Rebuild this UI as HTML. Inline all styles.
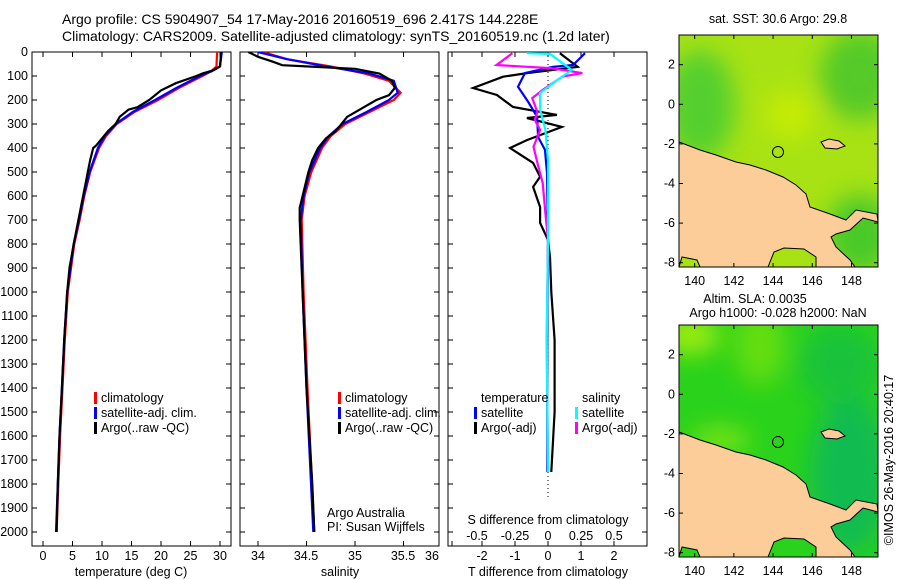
<!DOCTYPE html>
<html><head><meta charset="utf-8">
<style>
body{margin:0;background:#fff;}
svg{display:block;font-family:"Liberation Sans",sans-serif;}
text{font-size:12.5px;fill:#000;}
.ttl{font-size:14px;}
</style></head>
<body>
<svg id="fig" width="900" height="580" viewBox="0 0 900 580">
<defs>
<filter id="blur" x="-50%" y="-50%" width="200%" height="200%"><feGaussianBlur stdDeviation="12"/></filter>
<clipPath id="clipP1"><rect x="32" y="52" width="199" height="494"/></clipPath>
<clipPath id="clipP2"><rect x="240" y="52" width="199" height="494"/></clipPath>
<clipPath id="clipP3"><rect x="448" y="52" width="199" height="494"/></clipPath>
<clipPath id="clipM1"><rect x="679" y="35" width="199" height="232"/></clipPath>
<clipPath id="clipM2"><rect x="679" y="325" width="199" height="232"/></clipPath>
</defs>
<g>
<text class="ttl" x="62" y="24">Argo profile: CS 5904907_54 17-May-2016 20160519_696 2.417S 144.228E</text>
<text class="ttl" x="62" y="41">Climatology: CARS2009. Satellite-adjusted climatology: synTS_20160519.nc (1.2d later)</text>
</g>
<g id="panels"></g>
<g id="maps"></g>
<text transform="translate(893,460) rotate(-90)" text-anchor="middle">©IMOS 26-May-2016 20:40:17</text>
</svg>
<script>
// ---------- data ----------
const tempArgoDepth=[0,60,75,90,100,130,160,200,230,240,270,300,330,360,390,400,450,500,550,600,700,800,900,1000,1200,1400,1600,1800,2000];
const tempArgo=[30.2,30,29,27,26,22.5,20,18,16,14.5,13,12.3,11,10,9,8.5,8,7.6,7.2,6.8,6.0,5.2,4.5,4.1,3.6,3.2,2.8,2.5,2.3];
const tempClimDepth=[0,60,80,100,150,200,250,300,350,400,500,600,700,800,1000,1200,1400,1600,1800,2000];
const tempClim=[29.5,29.4,28.5,27,23,19.5,15.5,12.5,10.7,9.5,8,7,6.2,5.3,4.2,3.7,3.3,2.9,2.6,2.3];
const tempSat=[30.3,30,28.6,26.6,22.6,19,15.2,12.3,10.5,9.3,7.9,6.9,6.1,5.2,4.1,3.6,3.2,2.8,2.5,2.2];
const salArgoDepth=[0,20,40,55,62,70,90,120,150,180,200,240,270,290,330,360,400,450,500,600,650,700,1000,1400,1800,2000];
const salArgo=[33.9,34.0,34.15,34.25,34.6,35.0,35.25,35.38,35.41,35.35,35.22,35.05,34.92,34.88,34.8,34.7,34.62,34.56,34.52,34.46,34.43,34.43,34.46,34.5,34.56,34.58];
const salClimDepth=[0,30,60,90,120,170,200,250,300,350,400,500,600,700,1000,1400,2000];
const salClim=[34.05,34.3,34.75,35.1,35.35,35.47,35.4,35.15,34.9,34.75,34.66,34.55,34.48,34.45,34.47,34.51,34.58];
const salSat=[34.0,34.3,34.7,35.15,35.4,35.44,35.35,35.12,34.87,34.73,34.64,34.53,34.47,34.44,34.46,34.5,34.57];
const tdArgoDepth=[5,62,88,103,150,179,229,262,275,312,367,400,462,520,562,646,712,783,854,1000,1200,1500,1750];
const tdArgo=[0.36,0.9,-0.64,-1.36,-2.27,-1.55,-1.06,0.27,-0.64,0.42,-0.64,-1.15,-0.45,-0.24,-0.45,-0.24,-0.24,0,0.06,0.1,0.2,0.2,0.1];
const tdSatDepth=[5,54,62,88,145,208,270,354,408,504,800,1200,1750];
const tdSat=[1.12,0.76,0.15,-0.7,-0.91,-0.6,-0.33,-0.3,-0.09,-0.03,0,-0.02,-0.02];
const sdArgoDepth=[5,54,67,88,102,158,192,250,283,325,395,462,546,671,783,1200,1750];
const sdArgo=[-0.27,-0.39,0.015,0.26,0.11,-0.04,-0.12,-0.08,-0.1,-0.06,-0.11,-0.08,-0.04,-0.02,0,-0.01,0];
const sdSatDepth=[5,8,75,117,171,242,325,450,800,1200,1750];
const sdSat=[-0.16,0.015,0.18,0.07,-0.06,-0.06,-0.02,0,0,-0.01,0];
const depthTicks=[0,100,200,300,400,500,600,700,800,900,1000,1100,1200,1300,1400,1500,1600,1700,1800,1900,2000];
const tempTicks=[0,5,10,15,20,25,30];
const salTicks=[34,34.5,35,35.5,36];
const tdTicks=[-2,-1,0,1,2];
const sdTicks=[-0.5,-0.25,0,0.25,0.5];
const sdTickLabels=["-0.5","-0.25","0","0.25","0.5"];
const lonTicks=[140,142,144,146,148];
const latTicks=[2,0,-2,-4,-6,-8];
// ---------- scales ----------
const yD=d=>52+d*0.24;
const xT=t=>43+t*5.9;
const xS=s=>258+(s-34)*97;
const xTd=t=>548+t*33;
const xSd=s=>548+s*132;
const lonX=l=>679+(l-139.2)*19.6;
const latY=(la,top)=>top+(3.5-la)*19.8;
const NS="http://www.w3.org/2000/svg";
const panels=document.getElementById('panels');
const maps=document.getElementById('maps');
function mk(tag,attrs,parent){const e=document.createElementNS(NS,tag);for(const k in attrs)e.setAttribute(k,attrs[k]);parent.appendChild(e);return e;}
function txt(x,y,s,anchor,parent){const t=mk('text',{x:x,y:y,'text-anchor':anchor||'middle'},parent);t.textContent=s;return t;}
function stepPath(xs,ds,fx){let p='';for(let i=0;i<xs.length;i++){p+=(i?'L':'M')+fx(xs[i]).toFixed(1)+','+yD(ds[i]).toFixed(1);}return p;}
function line(parent,xs,ds,fx,col,name,clip){const p=mk('path',{d:stepPath(xs,ds,fx),fill:'none',stroke:col,'stroke-width':2.2,'clip-path':clip},parent);

return p;}
function panelFrame(x0,name){const g=mk('g',{},panels);


const r=mk('rect',{x:x0,y:52,width:199,height:494,fill:'none',stroke:'#000','stroke-width':1},g);


for(const d of depthTicks){mk('line',{x1:x0,x2:x0+5,y1:yD(d),y2:yD(d),stroke:'#000'},g);mk('line',{x1:x0+199,x2:x0+194,y1:yD(d),y2:yD(d),stroke:'#000'},g);}
return g;}
// panel 1 temperature
const g1=panelFrame(32,'temperature-panel');
const yl=mk('g',{},g1);


for(const d of depthTicks){txt(28,yD(d)+4,String(d),'end',yl);}
for(const t of tempTicks){mk('line',{x1:xT(t),x2:xT(t),y1:52,y2:57,stroke:'#000'},g1);mk('line',{x1:xT(t),x2:xT(t),y1:546,y2:541,stroke:'#000'},g1);txt(xT(t),560,String(t),'middle',g1);}
txt(131,576,'temperature (deg C)','middle',g1);
line(g1,tempClim,tempClimDepth,xT,'#ff0000','climatology-temp-line','url(#clipP1)');
line(g1,tempSat,tempClimDepth,xT,'#0000ff','satellite-temp-line','url(#clipP1)');
line(g1,tempArgo,tempArgoDepth,xT,'#000000','argo-temp-line','url(#clipP1)');
function legend(parent,x,y,items){const g=mk('g',{},parent);


items.forEach((it,i)=>{if(it[0])mk('rect',{x:x-7,y:y+i*15-10,width:3,height:12,fill:it[0]},g);txt(x,y+i*15,it[1],'start',g);});}
legend(g1,101,402,[['#ff0000','climatology'],['#0000ff','satellite-adj. clim.'],['#000','Argo(..raw -QC)']]);
// panel 2 salinity
const g2=panelFrame(240,'salinity-panel');
const salLabX=[258,306,355,403,432];
salTicks.forEach((s,i)=>{mk('line',{x1:xS(s),x2:xS(s),y1:52,y2:57,stroke:'#000'},g2);mk('line',{x1:xS(s),x2:xS(s),y1:546,y2:541,stroke:'#000'},g2);txt(salLabX[i],560,String(s),'middle',g2);});
txt(340,576,'salinity','middle',g2);
line(g2,salClim,salClimDepth,xS,'#ff0000','climatology-salinity-line','url(#clipP2)');
line(g2,salSat,salClimDepth,xS,'#0000ff','satellite-salinity-line','url(#clipP2)');
line(g2,salArgo,salArgoDepth,xS,'#000000','argo-salinity-line','url(#clipP2)');
legend(g2,345,402,[['#ff0000','climatology'],['#0000ff','satellite-adj. clim.'],['#000','Argo(..raw -QC)']]);
txt(327,517,'Argo Australia','start',g2);
txt(327,531,'PI: Susan Wijffels','start',g2);
// panel 3 differences
const g3=panelFrame(448,'difference-panel');
mk('line',{x1:548,x2:548,y1:52,y2:500,stroke:'#000','stroke-dasharray':'1,3'},g3);
for(const t of tdTicks){mk('line',{x1:xTd(t),x2:xTd(t),y1:52,y2:57,stroke:'#000'},g3);mk('line',{x1:xTd(t),x2:xTd(t),y1:546,y2:541,stroke:'#000'},g3);txt(xTd(t),560,String(t),'middle',g3);}
sdTicks.forEach((s,i)=>{txt(xSd(s)-(i==0?5:0),540,sdTickLabels[i],'middle',g3);});
txt(548,524,'S difference from climatology','middle',g3);
txt(548,576,'T difference from climatology','middle',g3);
line(g3,tdArgo,tdArgoDepth,xTd,'#000000','argo-t-diff-line','url(#clipP3)');
line(g3,tdSat,tdSatDepth,xTd,'#0000ff','satellite-t-diff-line','url(#clipP3)');
line(g3,sdArgo,sdArgoDepth,xSd,'#ff00ff','argo-s-diff-line','url(#clipP3)');
line(g3,sdSat,sdSatDepth,xSd,'#00ffff','satellite-s-diff-line','url(#clipP3)');
legend(g3,481,402,[[null,'temperature'],['#0000ff','satellite'],['#000','Argo(-adj)']]);
legend(g3,582,402,[[null,'salinity'],['#00ffff','satellite'],['#ff00ff','Argo(-adj)']]);
// maps
const land="M0,107 L21,115 L37,120 L57,127 L71,130 L87,135 L104,142 L117,150 L127,159 L131,172 L151,179 L167,185 L177,175 L198,179 L199,187 L184,183 L171,195 L157,199 L152,202 L157,212 L171,225 L176,232 L137,232 L137,222 L125,214 L105,213 L95,217 L89,232 L21,232 L18,225 L3,222 L0,232 Z";
function drawMap(top,name,title1,title2,kind){const g=mk('g',{},maps);


const c=mk('g',{'clip-path':'url(#'+(kind==1?'clipM1':'clipM2')+')'},g);
if(kind==1){mk('rect',{x:679,y:top,width:199,height:232,fill:'#a8e214'},c);
const bl=mk('g',{filter:'url(#blur)',opacity:0.7},c);
mk('ellipse',{cx:700,cy:top+70,rx:35,ry:55,fill:'#30c83a'},bl);
mk('ellipse',{cx:860,cy:top+40,rx:40,ry:45,fill:'#30c030'},bl);
mk('ellipse',{cx:860,cy:top+200,rx:35,ry:40,fill:'#20c030'},bl);
mk('ellipse',{cx:790,cy:top+80,rx:25,ry:25,fill:'#d0f000'},bl);
}else{mk('rect',{x:679,y:top,width:199,height:232,fill:'#2ad21c'},c);
const bl=mk('g',{filter:'url(#blur)',opacity:0.85},c);
mk('ellipse',{cx:690,cy:top+10,rx:30,ry:20,fill:'#b0f010'},bl);
mk('ellipse',{cx:760,cy:top+20,rx:25,ry:40,fill:'#70e010'},bl);
mk('ellipse',{cx:720,cy:top+115,rx:30,ry:12,fill:'#90e812'},bl);
mk('ellipse',{cx:850,cy:top+150,rx:40,ry:80,fill:'#10b85a'},bl);
mk('ellipse',{cx:840,cy:top+40,rx:40,ry:40,fill:'#18c040'},bl);}
const lp=mk('path',{d:land,transform:'translate(679,'+top+')',fill:'#fccc99',stroke:'#000','stroke-width':1},c);


mk('path',{d:'M142,107 L150,104 L160,106 L166,111 L158,114 L146,113 Z',transform:'translate(679,'+top+')',fill:'#fccc99',stroke:'#000'},c);
const ci=mk('circle',{cx:679+99,cy:top+117,r:5.5,fill:'none',stroke:'#000','stroke-width':1},g);


mk('rect',{x:679,y:top,width:199,height:232,fill:'none',stroke:'#000'},g);
for(const l of lonTicks){const x=lonX(l);mk('line',{x1:x,x2:x,y1:top,y2:top+4,stroke:'#000'},g);mk('line',{x1:x,x2:x,y1:top+232,y2:top+228,stroke:'#000'},g);txt(x,top+250,String(l),'middle',g);}
for(const la of latTicks){const y=latY(la,top);mk('line',{x1:679,x2:683,y1:y,y2:y,stroke:'#000'},g);mk('line',{x1:878,x2:874,y1:y,y2:y,stroke:'#000'},g);txt(675,y+4,String(la),'end',g);}
if(title2){txt(755,top-22,title1,'middle',g);txt(778,top-8,title2,'middle',g);}else txt(778,top-12,title1,'middle',g);}
drawMap(35,'sst-map','sat. SST: 30.6 Argo: 29.8',null,1);
drawMap(325,'sla-map','Altim. SLA: 0.0035','Argo h1000: -0.028 h2000: NaN',2);
</script>
</body></html>
